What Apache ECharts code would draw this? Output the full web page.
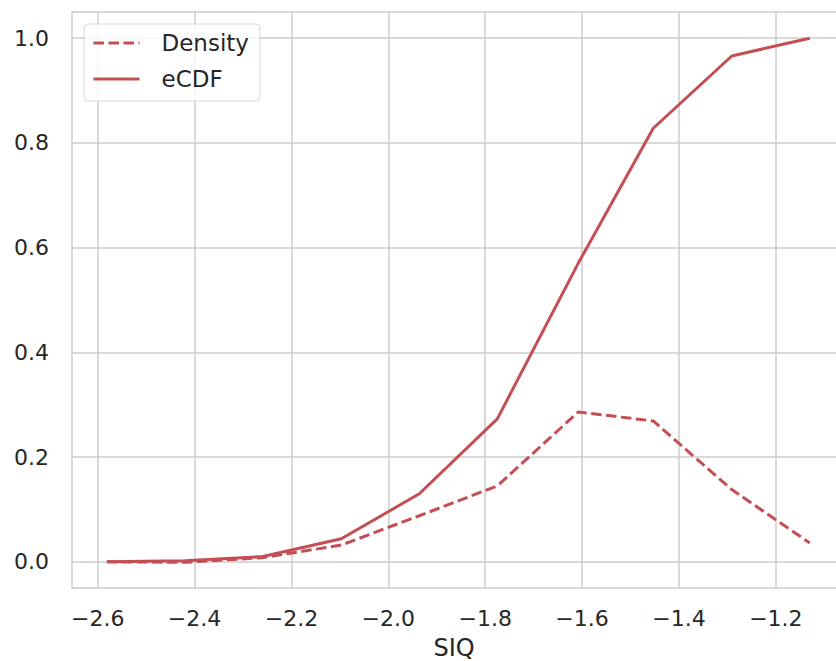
<!DOCTYPE html>
<html>
<head>
<meta charset="utf-8">
<script src="https://cdn.jsdelivr.net/npm/echarts@6/dist/echarts.min.js"></script>
<style>html,body{margin:0;padding:0;background:#fff;}#c{width:836px;height:661px;}</style>
</head>
<body>
<div id="c"></div>
<script>
// SIQ sample points
const siq = [-2.581, -2.420, -2.259, -2.097, -1.936, -1.775, -1.608, -1.453, -1.291, -1.130];
const density = [0.000, -0.001, 0.008, 0.032, 0.088, 0.145, 0.286, 0.269, 0.138, 0.036];
const ecdf = [0.000, 0.002, 0.010, 0.044, 0.130, 0.273, 0.570, 0.828, 0.966, 1.000];
const xTicks = [-2.6, -2.4, -2.2, -2.0, -1.8, -1.6, -1.4, -1.2];
const yTicks = [0.0, 0.2, 0.4, 0.6, 0.8, 1.0];

const red = '#c44e52';
const txt = '#262626';
const gridC = '#cccccc';
const font = 'DejaVu Sans';
const fmt = v => (v < 0 ? '\u2212' : '') + Math.abs(v).toFixed(1);
const xMin = -2.653, xMax = -1.0758;

const chart = echarts.init(document.getElementById('c'), null, {renderer: 'svg'});
chart.setOption({
  animation: false,
  backgroundColor: '#ffffff',
  textStyle: {fontFamily: font},
  grid: {left: 72, top: 12, right: 0, height: 576, show: false, containLabel: false, outerBoundsMode: 'none'},
  legend: {
    left: 84, top: 24, orient: 'vertical',
    padding: [7, 11, 10, 8],
    itemWidth: 46, itemHeight: 24, itemGap: 12,
    backgroundColor: 'rgba(255,255,255,0.8)',
    borderColor: '#d6d6d6', borderWidth: 1, borderRadius: 4,
    itemStyle: {opacity: 0},
    lineStyle: {width: 3},
    textStyle: {fontSize: 23, color: txt, fontFamily: font, lineHeight: 24, padding: [0, 0, 0, 17]},
    data: ['Density', 'eCDF']
  },
  xAxis: [{
    type: 'value', min: xMin, max: xMax,
    name: 'SIQ', nameLocation: 'middle', nameGap: 48,
    nameTextStyle: {fontSize: 24, lineHeight: 24, color: txt, fontFamily: font},
    axisLine: {show: true, onZero: false, lineStyle: {color: gridC, width: 1.5}},
    axisTick: {show: false, customValues: xTicks},
    axisLabel: {customValues: xTicks, formatter: fmt, fontSize: 22, color: txt, margin: 19, fontFamily: font},
    splitLine: {show: true, lineStyle: {color: gridC, width: 1.5}}
  }, {
    type: 'value', min: xMin, max: xMax, position: 'top',
    axisLine: {show: true, onZero: false, lineStyle: {color: gridC, width: 1.5}},
    axisTick: {show: false}, axisLabel: {show: false}, splitLine: {show: false}
  }],
  yAxis: {
    type: 'value', min: -0.05, max: 1.05,
    axisLine: {show: true, onZero: false, lineStyle: {color: gridC, width: 1.5}},
    axisTick: {show: false, customValues: yTicks},
    axisLabel: {customValues: yTicks, formatter: v => v.toFixed(1), fontSize: 22, color: txt, margin: 23, fontFamily: font},
    splitLine: {show: true, lineStyle: {color: gridC, width: 1.5}}
  },
  series: [
    {name: 'Density', type: 'line', data: siq.map((x, i) => [x, density[i]]), symbol: 'none', showSymbol: false,
     lineStyle: {color: red, width: 3, type: [10.5, 4.5]}, itemStyle: {color: red}, z: 3},
    {name: 'eCDF', type: 'line', data: siq.map((x, i) => [x, ecdf[i]]), symbol: 'none', showSymbol: false,
     lineStyle: {color: red, width: 3}, itemStyle: {color: red}, z: 3}
  ]
});
</script>
</body>
</html>
